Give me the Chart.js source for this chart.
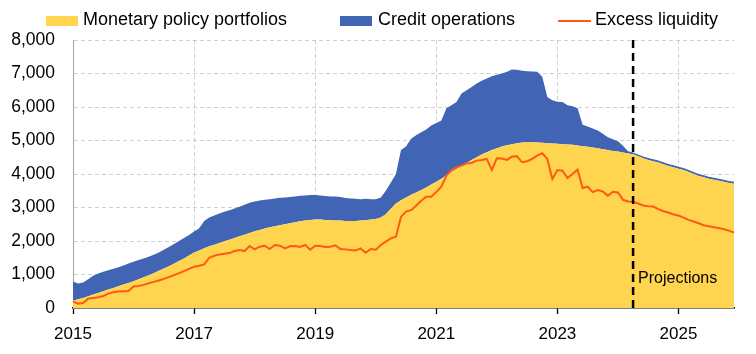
<!DOCTYPE html>
<html>
<head>
<meta charset="utf-8">
<script src="https://cdn.jsdelivr.net/npm/chart.js@4.4.1/dist/chart.umd.min.js"></script>
<style>
  body { margin: 0; background: #fff; }
  #wrap { position: relative; width: 756px; height: 354px; }
  .leg { position: absolute; top: 9px; height: 22px; line-height: 22px;
         font: 18px "Liberation Sans", Arial, sans-serif; color: #000; white-space: nowrap; }
  .leg i { position: absolute; display: block; }
</style>
</head>
<body>
<div id="wrap">
  <canvas id="grafico" width="756" height="354"></canvas>
  <div class="leg" style="left:46px"><i style="left:0;top:7px;width:32px;height:10px;background:#FFD44F"></i><span style="margin-left:37px">Monetary policy portfolios</span></div>
  <div class="leg" style="left:340px"><i style="left:0;top:7px;width:32px;height:10px;background:#4164B4"></i><span style="margin-left:38px">Credit operations</span></div>
  <div class="leg" style="left:558px"><i style="left:0;top:11px;width:33px;height:2px;background:#FF5A14"></i><span style="margin-left:37px">Excess liquidity</span></div>
</div>
<script>
// meses jan/2015 .. dez/2025
const meses = [];
for (let a = 2015; a <= 2025; a++) {
    for (let m = 1; m <= 12; m++) meses.push(a + '-' + String(m).padStart(2, '0'));
}
const anosTick = ['2015', '2017', '2019', '2021', '2023', '2025'];
const inicioProjecao = '2024-04';

// EUR bn
const carteiras = [
    220, 260, 300, 350, 400, 450, 500, 550, 600, 650, 700, 750,
    800, 860, 920, 980, 1040, 1110, 1180, 1250, 1320, 1400, 1480, 1570,
    1660, 1720, 1780, 1840, 1890, 1940, 1990, 2040, 2090, 2140, 2190, 2240,
    2290, 2330, 2370, 2410, 2440, 2470, 2500, 2530, 2560, 2590, 2610, 2630,
    2640, 2640, 2630, 2620, 2610, 2610, 2600, 2600, 2600, 2610, 2620, 2640,
    2660, 2700, 2800, 2960, 3120, 3220, 3300, 3380, 3450, 3520, 3600, 3690,
    3770, 3860, 3960, 4060, 4150, 4250, 4330, 4420, 4500, 4580, 4650, 4720,
    4770, 4820, 4860, 4890, 4920, 4940, 4950, 4950, 4940, 4930, 4920, 4910,
    4900, 4890, 4880, 4870, 4850, 4830, 4810, 4790, 4770, 4740, 4720, 4690,
    4670, 4640, 4610, 4590, 4530, 4470, 4420, 4380, 4340, 4290, 4240, 4200,
    4160, 4120, 4060, 4000, 3940, 3900, 3860, 3830, 3800, 3770, 3730, 3710
];
const operacoesCredito = [
    570, 470, 460, 510, 560, 580, 580, 580, 570, 570, 570, 580,
    580, 570, 560, 550, 550, 550, 560, 570, 590, 600, 610, 610,
    620, 660, 820, 860, 870, 880, 880, 880, 880, 880, 890, 900,
    890, 880, 860, 840, 830, 820, 800, 780, 770, 760, 750, 740,
    730, 720, 710, 710, 720, 700, 680, 670, 660, 640, 640, 610,
    590, 600, 700, 790, 880, 1500, 1520, 1670, 1710, 1730, 1730, 1760,
    1750, 1740, 2000, 1990, 2000, 2150, 2170, 2180, 2200, 2200, 2200, 2200,
    2190, 2180, 2190, 2230, 2190, 2140, 2120, 2110, 2110, 1970, 1380, 1290,
    1260, 1260, 1170, 1150, 1110, 640, 610, 570, 530, 460, 380, 350,
    310, 200, 70, 50, 50, 50, 60, 60, 60, 60, 60, 60,
    60, 60, 60, 60, 60, 60, 60, 60, 60, 60, 60, 60
];
const excessoLiquidez = [
    200, 130, 150, 280, 300, 320, 360, 430, 470, 490, 500, 510,
    640, 660, 690, 740, 780, 820, 870, 920, 980, 1040, 1100, 1170,
    1230, 1260, 1300, 1500, 1560, 1600, 1620, 1640, 1700, 1730, 1700, 1850,
    1750, 1830, 1860, 1760, 1880, 1860, 1780, 1840, 1850, 1820, 1880, 1740,
    1860, 1850, 1820, 1830, 1870, 1760, 1750, 1730, 1720, 1780, 1650, 1760,
    1740, 1880, 1980, 2080, 2130, 2720, 2880, 2920, 3050, 3200, 3320, 3320,
    3460, 3620, 3950, 4110, 4200, 4250, 4320, 4330, 4400, 4420, 4450, 4120,
    4470, 4460, 4420, 4520, 4530, 4350, 4380, 4450, 4550, 4620, 4450, 3850,
    4120, 4100, 3880, 4000, 4130, 3580, 3620, 3460, 3520, 3480, 3350, 3470,
    3450, 3230, 3180, 3170, 3120, 3060, 3040, 3030, 2950, 2890, 2850, 2790,
    2760, 2700, 2630, 2580, 2530, 2470, 2440, 2410, 2390, 2350, 2310, 2250
];

const fonte = '"Liberation Sans", Arial, sans-serif';
const corGrade = 'rgba(150,150,150,0.45)';

function ehTick(i) {
    const l = meses[i];
    return l !== undefined && l.endsWith('-01') && anosTick.includes(l.slice(0, 4));
}

// linha tracejada + texto "Projections"
const linhaProjecao = {
    id: 'linhaProjecao',
    afterDraw(chart) {
        const { ctx, chartArea } = chart;
        const x = chart.scales.x.getPixelForValue(meses.indexOf(inicioProjecao));
        ctx.save();
        ctx.strokeStyle = '#000';
        ctx.lineWidth = 2.5;
        ctx.setLineDash([8, 5]);
        ctx.beginPath();
        ctx.moveTo(x, chartArea.top);
        ctx.lineTo(x, chartArea.bottom);
        ctx.stroke();
        ctx.setLineDash([]);
        ctx.fillStyle = '#000';
        ctx.font = '16px ' + fonte;
        ctx.textBaseline = 'middle';
        ctx.fillText('Projections', x + 5, chartArea.bottom - 29);
        ctx.restore();
    }
};

new Chart(document.getElementById('grafico'), {
    type: 'line',
    data: {
        labels: meses,
        datasets: [
            {
                label: 'Monetary policy portfolios',
                data: carteiras,
                backgroundColor: '#FFD44F',
                borderWidth: 0,
                pointRadius: 0,
                fill: 'origin',
                stack: 'balanco',
                order: 1
            },
            {
                label: 'Credit operations',
                data: operacoesCredito,
                backgroundColor: '#4164B4',
                borderWidth: 0,
                pointRadius: 0,
                fill: '-1',
                stack: 'balanco',
                order: 2
            },
            {
                label: 'Excess liquidity',
                data: excessoLiquidez,
                borderColor: '#FF5A14',
                borderWidth: 2,
                pointRadius: 0,
                fill: false,
                stack: 'liquidez',
                order: 0
            }
        ]
    },
    options: {
        responsive: false,
        animation: false,
        layout: { padding: { top: 40, right: 22, left: 0, bottom: 0 } },
        plugins: { legend: { display: false }, tooltip: { enabled: false } },
        scales: {
            x: {
                z: 1,
                afterFit: (s) => { s.height = 46; },
                ticks: {
                    autoSkip: false,
                    maxRotation: 0,
                    padding: 10,
                    color: '#000',
                    font: { family: fonte, size: 17 },
                    callback: (v, i) => ehTick(i) ? meses[i].slice(0, 4) : ''
                },
                grid: {
                    color: (c) => (ehTick(c.index) && c.index > 0) ? corGrade : 'transparent',
                    tickColor: (c) => ehTick(c.index) ? '#000' : 'transparent',
                    tickLength: 6,
                    tickWidth: 1.3
                },
                border: { color: '#000', width: 1.5, dash: [4, 3] }
            },
            y: {
                z: 1,
                stacked: true,
                min: 0,
                max: 8000,
                afterFit: (s) => { s.width = 73; },
                ticks: {
                    stepSize: 1000,
                    padding: 18,
                    color: '#000',
                    font: { family: fonte, size: 17.5 },
                    callback: (v) => v.toLocaleString('en-US')
                },
                grid: {
                    color: (c) => c.tick && c.tick.value > 0 ? corGrade : 'transparent',
                    drawTicks: false
                },
                border: { color: '#A6A6A6', width: 1, dash: [4, 3] }
            }
        }
    },
    plugins: [linhaProjecao]
});
</script>
</body>
</html>
